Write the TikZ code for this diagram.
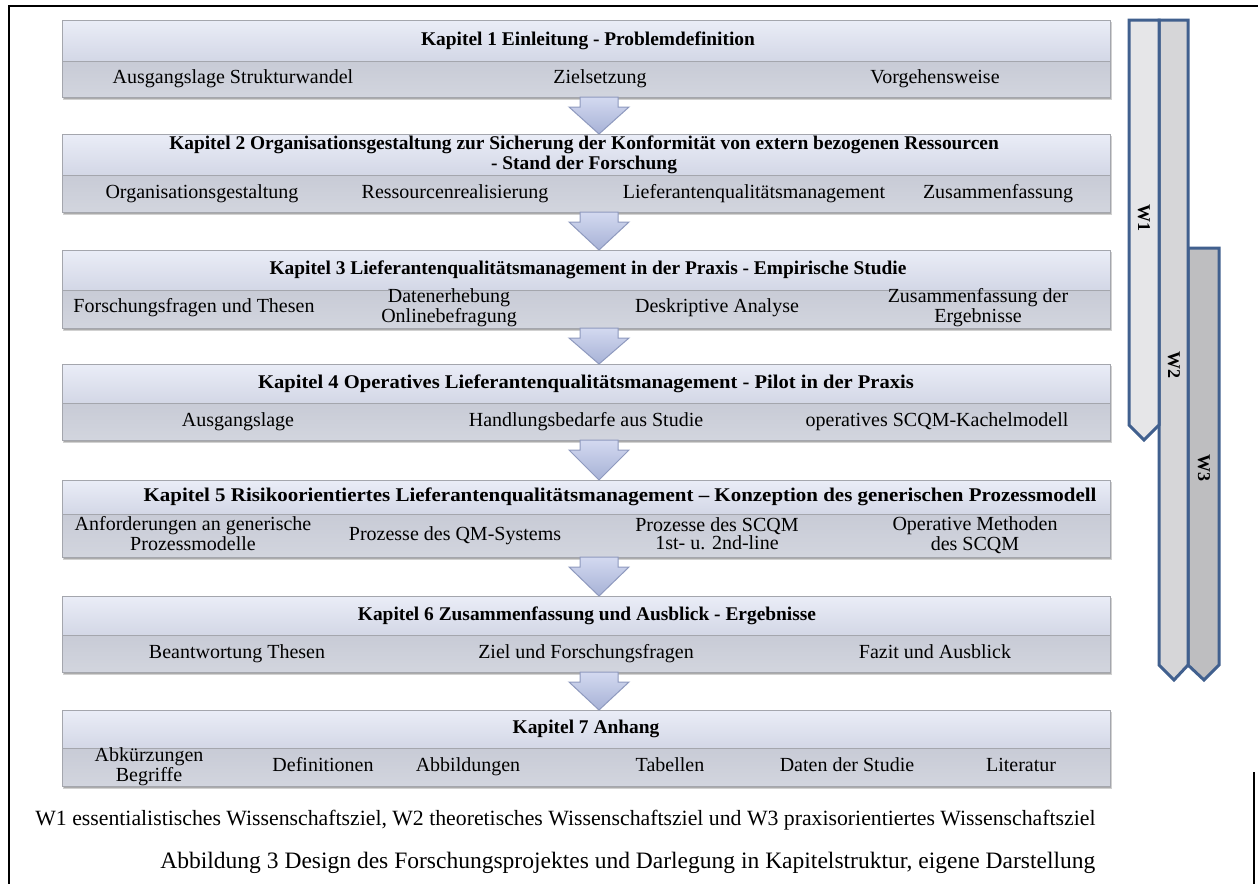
\documentclass[tikz,border=0pt]{standalone}
\usepackage{fontspec}
\usepackage{graphicx}
\setmainfont{Liberation Serif}
\usetikzlibrary{calc}
\definecolor{hdrtop}{HTML}{EAEDF7}
\definecolor{hdrbot}{HTML}{D3D7E6}
\definecolor{subtop}{HTML}{C8CBD6}
\definecolor{subbot}{HTML}{D2D5DE}
\definecolor{boxline}{HTML}{A4A6AD}
\definecolor{arrtop}{HTML}{D3D9F0}
\definecolor{arrbot}{HTML}{A7B2D6}
\definecolor{arrline}{HTML}{8E99BE}
\definecolor{wline}{HTML}{41608E}
\definecolor{wone}{HTML}{E6E6E8}
\definecolor{wtwo}{HTML}{D6D6D8}
\definecolor{wthree}{HTML}{BEBEC0}
\tikzset{
  hdr/.style={rectangle, anchor=north west, minimum width=524pt, outer sep=0pt, inner sep=0pt,
    top color=hdrtop, bottom color=hdrbot, draw=boxline, line width=0.4pt},
  subpart/.style={rectangle, anchor=north west, minimum width=524pt, outer sep=0pt, inner sep=0pt,
    top color=subtop, bottom color=subbot, draw=boxline, line width=0.4pt},
  ttl/.style={font=\fontsize{9.7}{8.8}\selectfont\bfseries, align=center, inner sep=0pt},
  lbl/.style={font=\fontsize{10}{9}\selectfont, align=center, inner sep=0pt,
    execute at begin node={\vphantom{Ag}}, execute at end node={\vphantom{g}}},
  boxshadow/.style={fill=black, opacity=0.18},
  arr/.style={top color=arrtop, bottom color=arrbot, draw=arrline, line width=0.5pt, line join=miter},
  wbar/.style={draw=wline, line width=1.5pt, line join=miter},
  wlbl/.style={font=\fontsize{9}{9}\selectfont\bfseries, rotate=-90, inner sep=0pt},
  frame/.style={line width=1.3pt, black}
}
% #1 name, #2 top, #3 split, #4 bottom, #5 title x, #6 title
\newcommand\kbox[6]{%
  \fill[boxshadow] (63,{#2+2}) rectangle (1112,{#4+3});
  \fill[boxshadow] (64,{#2+3}) rectangle (1111,{#4+1.5});
  \node[hdr, minimum height={(#3-#2)*0.5pt}] (#1h) at (62,#2) {};
  \node[subpart, minimum height={(#4-#3)*0.5pt}] (#1s) at (62,#3) {};
  \node[ttl] (#1t) at ({#5},{(#2+#3)/2}) {#6};
}
% arrow from node #1 (south) to node #2 (north)
\newcommand\karrow[2]{%
  \path[arr] ($(#1.south)+(-6,0)$) -- ($(#1.south)+(32,0)$) -- ($(#1.south)+(32,10)$)
    -- ($(#1.south)+(43,10)$) -- ($(#2.north)+(13,0)$) -- ($(#1.south)+(-17,10)$)
    -- ($(#1.south)+(-6,10)$) -- cycle;
}
\begin{document}
\begin{tikzpicture}[x=0.5pt,y=-0.5pt]
\useasboundingbox (0,0) rectangle (1258,884);
\fill[white] (0,0) rectangle (1258,884);
% frame
\draw[frame] (8,6) -- (1258,6);
\draw[frame] (9,6) -- (9,884);
\draw[frame] (1254,772) -- (1254,884);

% boxes
\kbox{ka}{20}{61}{97}{588}{Kapitel 1 Einleitung - Problemdefinition}
\kbox{kb}{134}{175}{212}{584}{Kapitel 2 Organisationsgestaltung zur Sicherung der Konformität von extern bezogenen Ressourcen\\- Stand der Forschung}
\kbox{kc}{250}{290}{328}{588}{Kapitel 3 Lieferantenqualitätsmanagement in der Praxis - Empirische Studie}
\kbox{kd}{364}{403}{440}{586}{\scalebox{1.06}[1]{Kapitel 4 Operatives Lieferantenqualitätsmanagement - Pilot in der Praxis}}
\kbox{ke}{480}{514}{557}{620}{\scalebox{1.08}[1]{Kapitel 5 Risikoorientiertes Lieferantenqualitätsmanagement – Konzeption des generischen Prozessmodell}}
\kbox{kf}{596}{635}{672}{587}{Kapitel 6 Zusammenfassung und Ausblick - Ergebnisse}
\kbox{kg}{710}{748}{786}{586}{Kapitel 7 Anhang}

% arrows
\karrow{kas}{kbh}
\karrow{kbs}{kch}
\karrow{kcs}{kdh}
\karrow{kds}{keh}
\karrow{kes}{kfh}
\karrow{kfs}{kgh}

% sub labels
\node[lbl] (a1) at (233,79) {Ausgangslage Strukturwandel};
\node[lbl] (a2) at (600,79) {Zielsetzung};
\node[lbl] (a3) at (935,79) {Vorgehensweise};

\node[lbl] (b1) at (202,193.5) {Organisationsgestaltung};
\node[lbl] (b2) at (455,193.5) {Ressourcenrealisierung};
\node[lbl] (b3) at (754,193.5) {Lieferantenqualitätsmanagement};
\node[lbl] (b4) at (998,193.5) {Zusammenfassung};

\node[lbl] (c1) at (194,308) {Forschungsfragen und Thesen};
\node[lbl] (c2) at (449,308) {Datenerhebung\\Onlinebefragung};
\node[lbl] (c3) at (717,308) {Deskriptive Analyse};
\node[lbl] (c4) at (978,308) {Zusammenfassung der\\Ergebnisse};

\node[lbl] (d1) at (238,421.5) {Ausgangslage};
\node[lbl] (d2) at (586,421.5) {Handlungsbedarfe aus Studie};
\node[lbl] (d3) at (937,421.5) {operatives SCQM-Kachelmodell};

\node[lbl] (e1) at (193,535.5) {Anforderungen an generische\\Prozessmodelle};
\node[lbl] (e2) at (455,535.5) {Prozesse des QM-Systems};
\node[lbl] (e3) at (717,535.5) {Prozesse des SCQM\\1st- u. 2nd-line};
\node[lbl] (e4) at (975,535.5) {Operative Methoden\\des SCQM};

\node[lbl] (f1) at (237,653.5) {Beantwortung Thesen};
\node[lbl] (f2) at (586,653.5) {Ziel und Forschungsfragen};
\node[lbl] (f3) at (935,653.5) {Fazit und Ausblick};

\node[lbl] (g1) at (149,767) {Abkürzungen\\Begriffe};
\node[lbl] (g2) at (323,767) {Definitionen};
\node[lbl] (g3) at (468,767) {Abbildungen};
\node[lbl] (g4) at (670,767) {Tabellen};
\node[lbl] (g5) at (847,767) {Daten der Studie};
\node[lbl] (g6) at (1021,767) {Literatur};

% W bars
\path[wbar, fill=wthree] (1188,248) -- (1219,248) -- (1219,665) -- (1204,680) -- (1188,665) -- cycle;
\path[wbar, fill=wtwo] (1159,20) -- (1188,20) -- (1188,665) -- (1174,680) -- (1159,665) -- cycle;
\path[wbar, fill=wone] (1129,20) -- (1159,20) -- (1159,425) -- (1144,440) -- (1129,425) -- cycle;
\node[wlbl] (w1) at (1144,218) {W1};
\node[wlbl] (w2) at (1174,365) {W2};
\node[wlbl] (w3) at (1204,468) {W3};

% captions
\node[inner sep=0pt, anchor=west] (cap1) at (35,820) {\resizebox{530pt}{!}{\fontsize{10}{12}\selectfont W1 essentialistisches Wissenschaftsziel, W2 theoretisches Wissenschaftsziel und W3 praxisorientiertes Wissenschaftsziel}};
\node[inner sep=0pt, anchor=west] (cap2) at (160,863) {\resizebox{467.5pt}{!}{\fontsize{12}{14}\selectfont Abbildung 3 Design des Forschungsprojektes und Darlegung in Kapitelstruktur, eigene Darstellung}};
\end{tikzpicture}
\end{document}
